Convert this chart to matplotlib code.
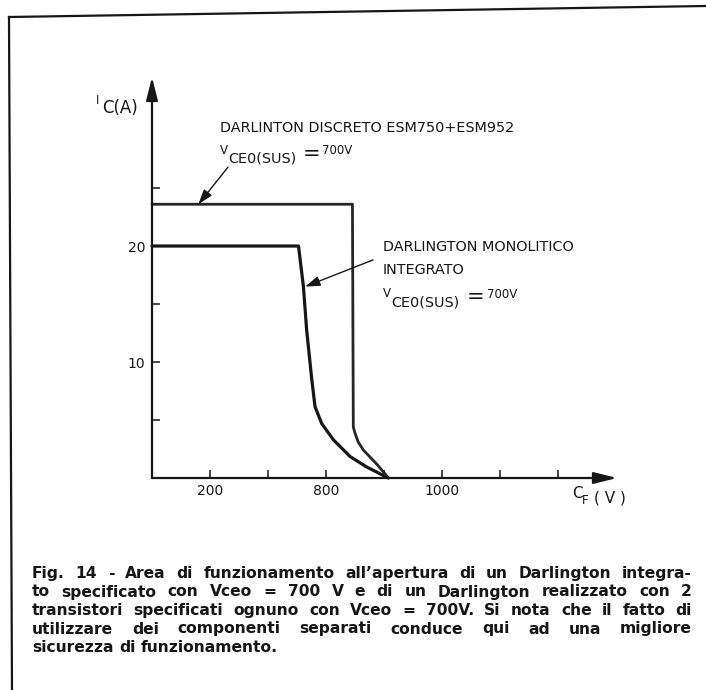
import matplotlib
matplotlib.use('Agg')
import matplotlib.pyplot as plt
from matplotlib.lines import Line2D

# safe operating area curves (V, A)
vce_mono = [0, 505, 522, 533, 551, 562, 585, 625, 683, 740, 815]
ic_mono = [20.0, 20.0, 16.5, 12.8, 8.45, 6.15, 4.7, 3.3, 1.85, 0.95, 0.0]

vce_disc = [0, 691, 694, 700, 711, 729, 752, 780, 815]
ic_disc = [23.6, 23.6, 4.4, 3.85, 3.1, 2.4, 1.8, 1.05, 0.0]

xticks = [200, 400, 600, 800, 1000, 1200, 1400]
xticklabels = ['200', '', '800', '', '1000', '', '']
yticks = [5, 10, 15, 20, 25]
yticklabels = ['', '10', '', '20', '']

caption_lines = [
    "Fig. 14 - Area di funzionamento all\u2019apertura di un Darlington integra-",
    "to specificato con Vceo = 700 V e di un Darlington realizzato con 2",
    "transistori specificati ognuno con Vceo = 700V. Si nota che il fatto di",
    "utilizzare dei componenti separati conduce qui ad una migliore",
    "sicurezza di funzionamento.",
]

W, H = 706, 690
ink = '#161616'


def fx(px):
    return px / W


def fy(py):
    return 1 - py / H


fig = plt.figure(figsize=(7.06, 6.90), dpi=100)
ax = fig.add_axes([fx(152), fy(478), (617 - 152) / W, (478 - 77) / H])

ax.plot(vce_mono, ic_mono, color=ink, lw=2.3, solid_joinstyle='round',
        solid_capstyle='round', clip_on=False)
ax.plot(vce_disc, ic_disc, color='#262626', lw=2.0, solid_joinstyle='round',
        solid_capstyle='round', clip_on=False)

ax.set_xlim(0, 1603)
ax.set_ylim(0, 34.57)
for s in ax.spines.values():
    s.set_visible(False)
ax.set_xticks(xticks)
ax.set_xticklabels(xticklabels)
ax.set_yticks(yticks)
ax.set_yticklabels(yticklabels)
ax.tick_params(direction='in', length=6, width=1.1, colors=ink, labelsize=10)
ax.tick_params(axis='y', pad=5)
ax.tick_params(axis='x', pad=4.5)

# axis lines with arrow heads
axis_arrow = dict(arrowstyle='-|>,head_length=1.4,head_width=0.35', mutation_scale=10,
                  lw=1.6, color=ink, shrinkA=0, shrinkB=0)
ax.annotate('', xy=(1, 0), xytext=(0, 0), xycoords='axes fraction',
            textcoords='axes fraction', arrowprops=axis_arrow)
ax.annotate('', xy=(0, 1), xytext=(0, 0), xycoords='axes fraction',
            textcoords='axes fraction', arrowprops=axis_arrow)

# pointer arrows
ptr = dict(arrowstyle='-|>,head_length=0.9,head_width=0.3', mutation_scale=10,
           lw=1.0, color=ink, shrinkA=0, shrinkB=0)
ax.annotate('', xy=(160, 23.6), xytext=(262, 26.8), arrowprops=ptr)
ax.annotate('', xy=(528, 16.5), xytext=(762, 18.8), arrowprops=ptr)

# axis labels
fig.text(fx(98), fy(101), 'I', fontsize=8.5, ha='center', va='center', color=ink)
fig.text(fx(102), fy(108), 'C(A)', fontsize=12, va='center', color=ink)
fig.text(fx(572), fy(493), 'C', fontsize=11, va='center', color=ink)
fig.text(fx(582), fy(500), 'F', fontsize=8.5, va='center', color=ink)
fig.text(fx(594), fy(498), '( V )', fontsize=11, va='center', color=ink)

# curve labels
fig.text(fx(220), fy(128), 'DARLINTON DISCRETO ESM750+ESM952', fontsize=10.4, va='center', color=ink)
fig.text(fx(220), fy(151), 'V', fontsize=8.5, va='center', color=ink)
fig.text(fx(228), fy(158), 'CE0(SUS)', fontsize=10.4, va='center', color=ink)
fig.text(fx(312), fy(154), '=', fontsize=15, ha='center', va='center', color=ink)
fig.text(fx(322), fy(151), '700V', fontsize=8.5, va='center', color=ink)

fig.text(fx(383), fy(247), 'DARLINGTON MONOLITICO', fontsize=10.4, va='center', color=ink)
fig.text(fx(383), fy(270), 'INTEGRATO', fontsize=10.4, va='center', color=ink)
fig.text(fx(383), fy(293), 'V', fontsize=8.5, va='center', color=ink)
fig.text(fx(391), fy(302), 'CE0(SUS)', fontsize=10.4, va='center', color=ink)
fig.text(fx(476), fy(297), '=', fontsize=15, ha='center', va='center', color=ink)
fig.text(fx(487), fy(295), '700V', fontsize=8.5, va='center', color=ink)

# page border of the scan
fig.add_artist(Line2D([fx(9), fx(12)], [fy(17), fy(690)], transform=fig.transFigure,
                      color=ink, lw=1.6))
fig.add_artist(Line2D([fx(9), fx(706)], [fy(17), fy(6)], transform=fig.transFigure,
                      color=ink, lw=1.6))

# justified caption
renderer = fig.canvas.get_renderer()
cap_left, cap_right = 32, 692
baselines = [578, 596.5, 615, 633.5, 652]
for i, line in enumerate(caption_lines):
    words = line.split()
    texts = [fig.text(0, fy(baselines[i]), w, fontsize=11.2, fontweight='bold',
                      family='DejaVu Sans', va='baseline', color=ink) for w in words]
    widths = [t.get_window_extent(renderer).width for t in texts]
    if i < len(caption_lines) - 1:
        gap = (cap_right - cap_left - sum(widths)) / (len(words) - 1)
    else:
        gap = 5.5
    x = cap_left
    for t, w in zip(texts, widths):
        t.set_x(fx(x))
        x += w + gap

fig.savefig('out.png', dpi=100)
